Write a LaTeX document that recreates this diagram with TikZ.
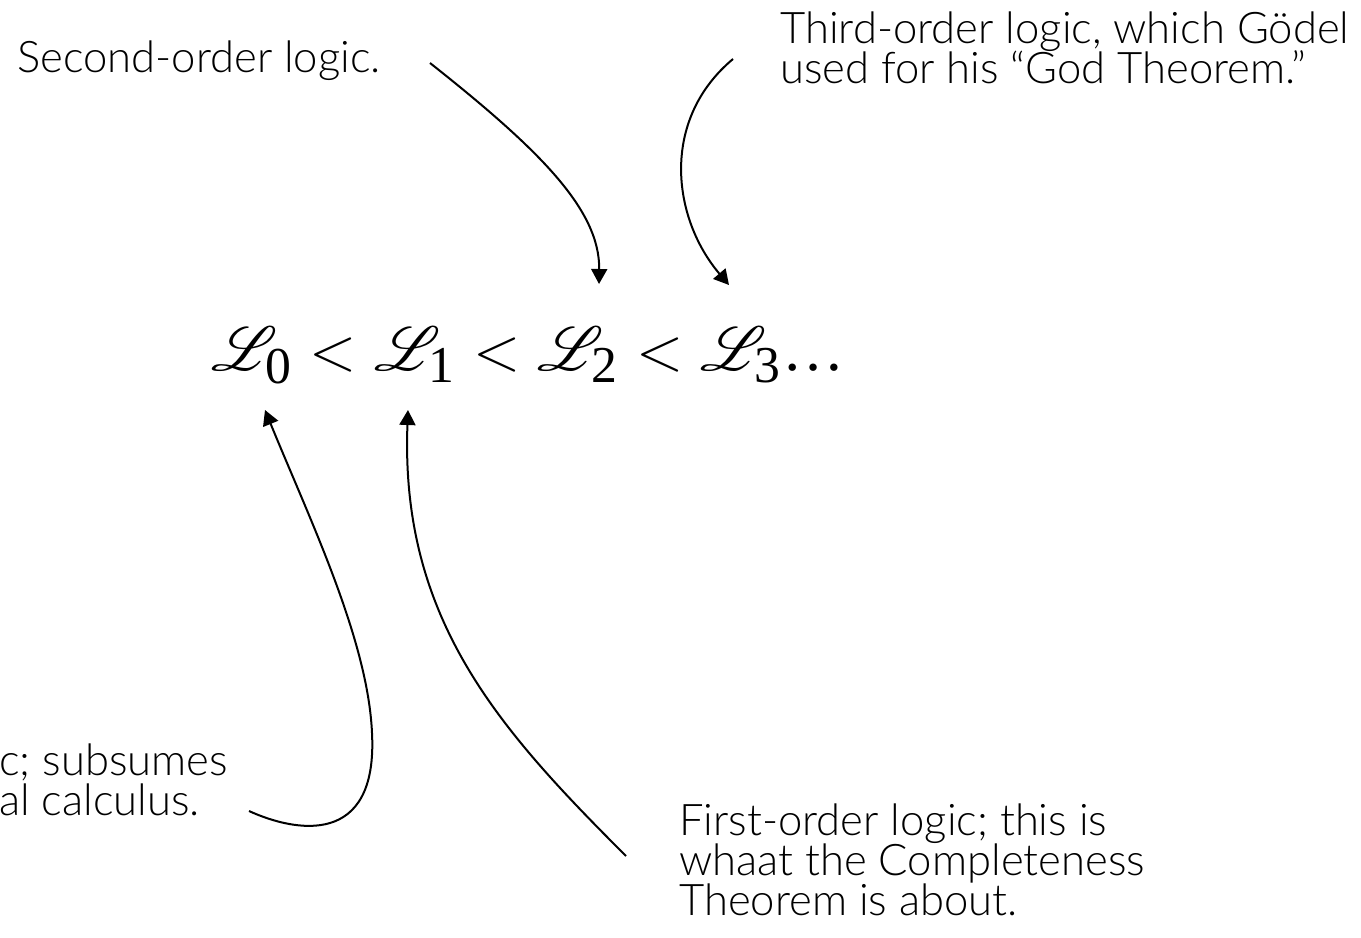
\documentclass[tikz,border=0pt]{standalone}
\usepackage{amsmath}
\usepackage{graphicx}
\usepackage{mathrsfs}
\usepackage{fontspec}
\setmainfont{Lato Light}
\newfontfamily\tms{Liberation Serif}
\usetikzlibrary{arrows.meta}
\tikzset{
  lbl/.style={inner sep=0pt, font=\fontsize{24.8}{29}\selectfont, text=black},
  conn/.style={line width=0.04cm, -{Triangle[length=0.3cm,width=0.32cm]}},
  formula/.style={inner sep=0pt, font=\fontsize{24.88}{30}\selectfont}
}
\begin{document}
\begin{tikzpicture}[x=0.02cm,y=-0.02cm]
\useasboundingbox[fill=white] (0,0) rectangle (1361,937);
% labels
\node[lbl, anchor=base west] (second) at (17,72) {Second-order logic.};
\node[lbl, anchor=base west] (third1) at (780,43) {Third-order logic, which Gödel};
\node[lbl, anchor=base west] (third2) at (780,83) {used for his “God Theorem.”};
\node[lbl, anchor=base west] (zero1) at (-1,775) {c; subsumes};
\node[lbl, anchor=base west] (zero2) at (-1,815) {al calculus.};
\node[lbl, anchor=base west] (first1) at (679,835) {First-order logic; this is};
\node[lbl, anchor=base west] (first2) at (679,875) {whaat the Completeness};
\node[lbl, anchor=base west] (first3) at (679,915) {Theorem is about.};
% formula
\node[formula, anchor=base west] (chain) at (211,370)
  {\scalebox{1.42}{$\mathscr{L}_{\text{\tms 0}} < \mathscr{L}_{\text{\tms 1}} < \mathscr{L}_{\text{\tms 2}} < \mathscr{L}_{\text{\tms 3}}\text{\tms\ldots}$}};
% connector ends
\coordinate (aS) at (430,63);
\coordinate (aE) at (599,284);
\coordinate (bS) at (733,59);
\coordinate (bE) at (729,285);
\coordinate (cS) at (249,811);
\coordinate (cM) at (372,733);
\coordinate (cE) at (265,410);
\coordinate (dS) at (626,856);
\coordinate (dE) at (408,410);
% connectors
\draw[conn] (aS) .. controls (540,150) and (600,210) .. (aE);
\draw[conn] (bS) .. controls (660,120) and (672,218) .. (bE);
\draw[conn] (cS) .. controls (295,832) and (378,848) .. (cM) .. controls (368,640) and (310,520) .. (cE);
\draw[conn] (dS) .. controls (500,730) and (400,620) .. (dE);
\end{tikzpicture}
\end{document}
